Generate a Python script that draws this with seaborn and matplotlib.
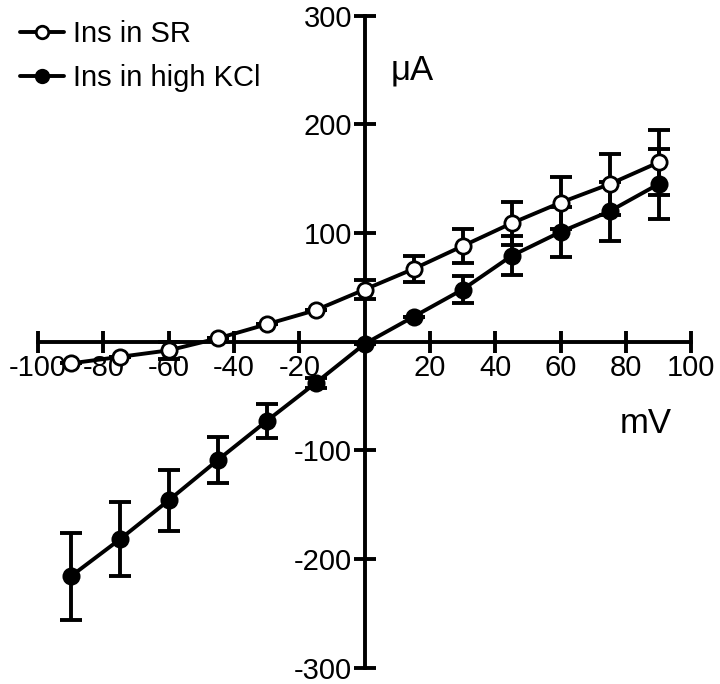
import numpy as np
import pandas as pd
import matplotlib
matplotlib.use("Agg")
import matplotlib.pyplot as plt
import seaborn as sns
from matplotlib.lines import Line2D

# Data (membrane voltage in mV, current in uA)
voltage = [-90, -75, -60, -45, -30, -15, 0, 15, 30, 45, 60, 75, 90]
sr_current = [-20, -14, -8, 3, 16, 29, 48, 67, 88, 109, 128, 145, 165]
sr_err = [0, 0, 8, 0, 0, 0, 9, 12, 16, 20, 24, 28, 30]
kcl_current = [-216, -182, -146, -109, -73, -38, -2, 23, 48, 79, 101, 120, 145]
kcl_err = [40, 34, 28, 21, 16, 5, 0, 0, 12, 18, 23, 27, 32]

x_ticks = [-100, -80, -60, -40, -20, 20, 40, 60, 80, 100]
y_ticks = [-300, -200, -100, 100, 200, 300]

sns.set_style("white")
plt.rcParams['font.family'] = ['Liberation Sans', 'DejaVu Sans']
plt.rcParams['axes.unicode_minus'] = False
plt.rcParams['text.color'] = 'black'
plt.rcParams['xtick.color'] = 'black'
plt.rcParams['ytick.color'] = 'black'
plt.rcParams['axes.edgecolor'] = 'black'

df = pd.DataFrame({
    "mV": voltage * 2,
    "uA": sr_current + kcl_current,
    "err": sr_err + kcl_err,
    "cond": ["Ins in SR"] * len(voltage) + ["Ins in high KCl"] * len(voltage),
})

fig = plt.figure(figsize=(7.2, 6.84), dpi=100)
ax = fig.add_axes([0.053, 0.024, 0.907, 0.953])

lw = 2.8
ms = 11
for cond, face in [("Ins in high KCl", "black"), ("Ins in SR", "white")]:
    d = df[df["cond"] == cond]
    ax.errorbar(d["mV"], d["uA"], yerr=d["err"], fmt="none", ecolor="black",
                elinewidth=lw, capsize=8, capthick=lw, zorder=3)
    sns.lineplot(data=d, x="mV", y="uA", ax=ax, color="black", linewidth=lw,
                 marker="o", markersize=ms, markerfacecolor=face,
                 markeredgecolor="black", markeredgewidth=2, zorder=4, legend=False)

ax.set_xlim(-100, 100)
ax.set_ylim(-300, 300)
ax.spines['left'].set_position('zero')
ax.spines['bottom'].set_position('zero')
ax.spines['right'].set_visible(False)
ax.spines['top'].set_visible(False)
for s in ['left', 'bottom']:
    ax.spines[s].set_linewidth(lw)
    ax.spines[s].set_zorder(2)
ax.set_xticks(x_ticks)
ax.set_yticks(y_ticks)
ax.set_xticklabels([str(t) for t in x_ticks])
ax.set_yticklabels([str(t) for t in y_ticks])
ax.tick_params(bottom=True, left=True, direction='inout', length=16, width=lw,
               labelsize=21, pad=1, colors='black')
ax.set_xlabel("")
ax.set_ylabel("")
ax.patch.set_alpha(0)

ax.text(8, 250, "μA", fontsize=25, ha="left", va="center")
ax.text(78, -75, "mV", fontsize=25, ha="left", va="center")

handles = [
    Line2D([], [], color="black", linewidth=lw, marker="o", markersize=ms - 2,
           markerfacecolor="white", markeredgewidth=2),
    Line2D([], [], color="black", linewidth=lw, marker="o", markersize=ms - 2,
           markerfacecolor="black", markeredgewidth=2),
]
fig.legend(handles, ["Ins in SR", "Ins in high KCl"], loc="upper left",
           bbox_to_anchor=(0.0, 1.0), frameon=False, fontsize=21,
           handlelength=1.5, handletextpad=0.3, labelspacing=0.55,
           borderaxespad=0.3)

fig.savefig("out.png", dpi=100)
